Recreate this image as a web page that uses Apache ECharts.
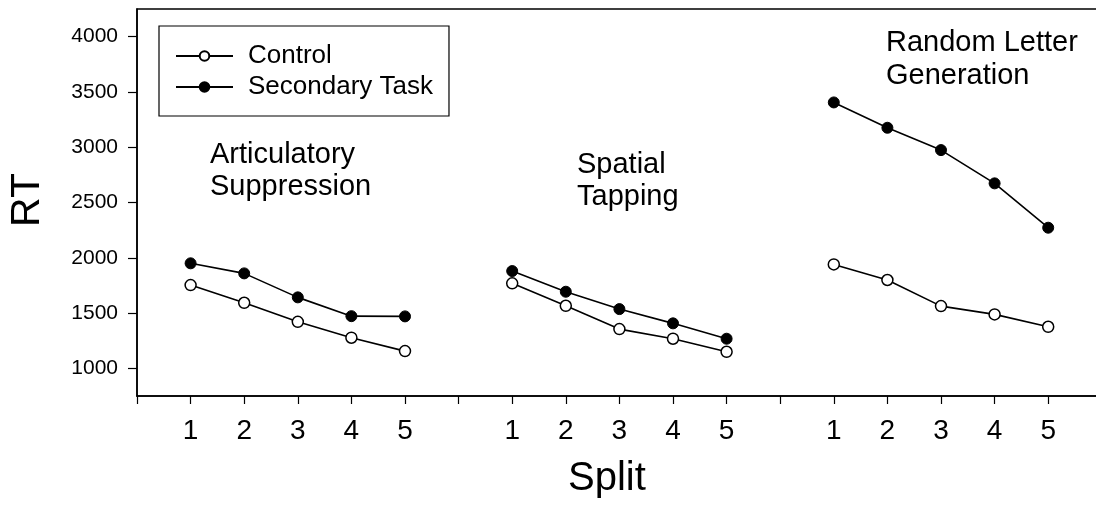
<!DOCTYPE html>
<html>
<head>
<meta charset="utf-8">
<script src="https://cdn.jsdelivr.net/npm/echarts@6/dist/echarts.min.js"></script>
<style>
html,body{margin:0;padding:0;background:#fff;}
#chart{width:1096px;height:507px;}
</style>
</head>
<body>
<div id="chart"></div>
<script>
// ---- data ----
var xLabels = ['', '1', '2', '3', '4', '5', '', '1', '2', '3', '4', '5', '', '1', '2', '3', '4', '5', ''];
var yTicks = [1000, 1500, 2000, 2500, 3000, 3500, 4000];
var groupNames = ['Articulatory\nSuppression', 'Spatial\nTapping', 'Random Letter\nGeneration'];
var seriesNames = ['Control', 'Secondary Task'];

var artControl   = [1753, 1593, 1421, 1277, 1156];
var artSecondary = [1950, 1859, 1642, 1472, 1470];
var spaControl   = [1769, 1566, 1355, 1268, 1150];
var spaSecondary = [1880, 1693, 1536, 1407, 1268];
var rlgControl   = [1940, 1799, 1563, 1488, 1376];
var rlgSecondary = [3405, 3176, 2974, 2673, 2272];

function joinGroups(a, b, c) {
  return [null].concat(a, [null], b, [null], c, [null]);
}
var controlData = joinGroups(artControl, spaControl, rlgControl);
var secondaryData = joinGroups(artSecondary, spaSecondary, rlgSecondary);

var FONT = 'Liberation Sans, Arial, Helvetica, sans-serif';
var chart = echarts.init(document.getElementById('chart'), null, {renderer: 'canvas'});

var option = {
  animation: false,
  backgroundColor: '#fff',
  grid: {
    left: 137, top: 9, width: 964.8, height: 387,
    containLabel: false, outerBoundsMode: 'none',
    show: true, borderColor: '#000', borderWidth: 1.5, backgroundColor: 'transparent'
  },
  legend: {
    left: 159, top: 26,
    orient: 'vertical',
    data: seriesNames,
    itemWidth: 57, itemHeight: 12, itemGap: 5,
    padding: [17, 16, 16, 16],
    borderColor: '#000', borderWidth: 1.2,
    textStyle: {fontFamily: FONT, fontSize: 26, color: '#000', padding: [0, 0, 0, 10]}
  },
  xAxis: {
    type: 'category',
    data: xLabels,
    boundaryGap: false,
    axisLine: {lineStyle: {color: '#000', width: 1.5}},
    axisTick: {show: true, interval: 0, length: 8, lineStyle: {color: '#000', width: 1.2}},
    axisLabel: {interval: 0, margin: 21, fontFamily: FONT, fontSize: 28, color: '#000'},
    splitLine: {show: false}
  },
  yAxis: {
    type: 'value',
    min: 750, max: 4250,
    axisLine: {show: true, lineStyle: {color: '#000', width: 1.5}},
    axisTick: {show: true, length: 9, customValues: yTicks, lineStyle: {color: '#000', width: 1.2}},
    axisLabel: {margin: 19, customValues: yTicks, fontFamily: FONT, fontSize: 21, color: '#000',
      formatter: function (v) { return String(v); }},
    splitLine: {show: false}
  },
  series: [
    {
      name: seriesNames[0], type: 'line', data: controlData,
      connectNulls: false, symbol: 'circle', symbolSize: 11, showSymbol: true,
      lineStyle: {color: '#000', width: 1.6},
      itemStyle: {color: '#fff', borderColor: '#000', borderWidth: 1.5},
      z: 3
    },
    {
      name: seriesNames[1], type: 'line', data: secondaryData,
      connectNulls: false, symbol: 'circle', symbolSize: 11, showSymbol: true,
      lineStyle: {color: '#000', width: 1.6},
      itemStyle: {color: '#000', borderColor: '#000', borderWidth: 1},
      z: 4
    }
  ],
  graphic: [
    {type: 'text', left: 210, top: 139, style: {text: groupNames[0], font: '29px ' + FONT, fill: '#000', lineHeight: 32}},
    {type: 'text', left: 577, top: 149, style: {text: groupNames[1], font: '29px ' + FONT, fill: '#000', lineHeight: 32}},
    {type: 'text', left: 886, top: 26, style: {text: groupNames[2], font: '29px ' + FONT, fill: '#000', lineHeight: 33}},
    {type: 'text', left: 568, top: 459, style: {text: 'Split', font: '40px ' + FONT, fill: '#000'}},
    {type: 'text', x: 28, y: 200, rotation: Math.PI / 2,
     style: {text: 'RT', font: '41px ' + FONT, fill: '#000', align: 'center', verticalAlign: 'middle'}}
  ]
};
chart.setOption(option);
</script>
</body>
</html>
